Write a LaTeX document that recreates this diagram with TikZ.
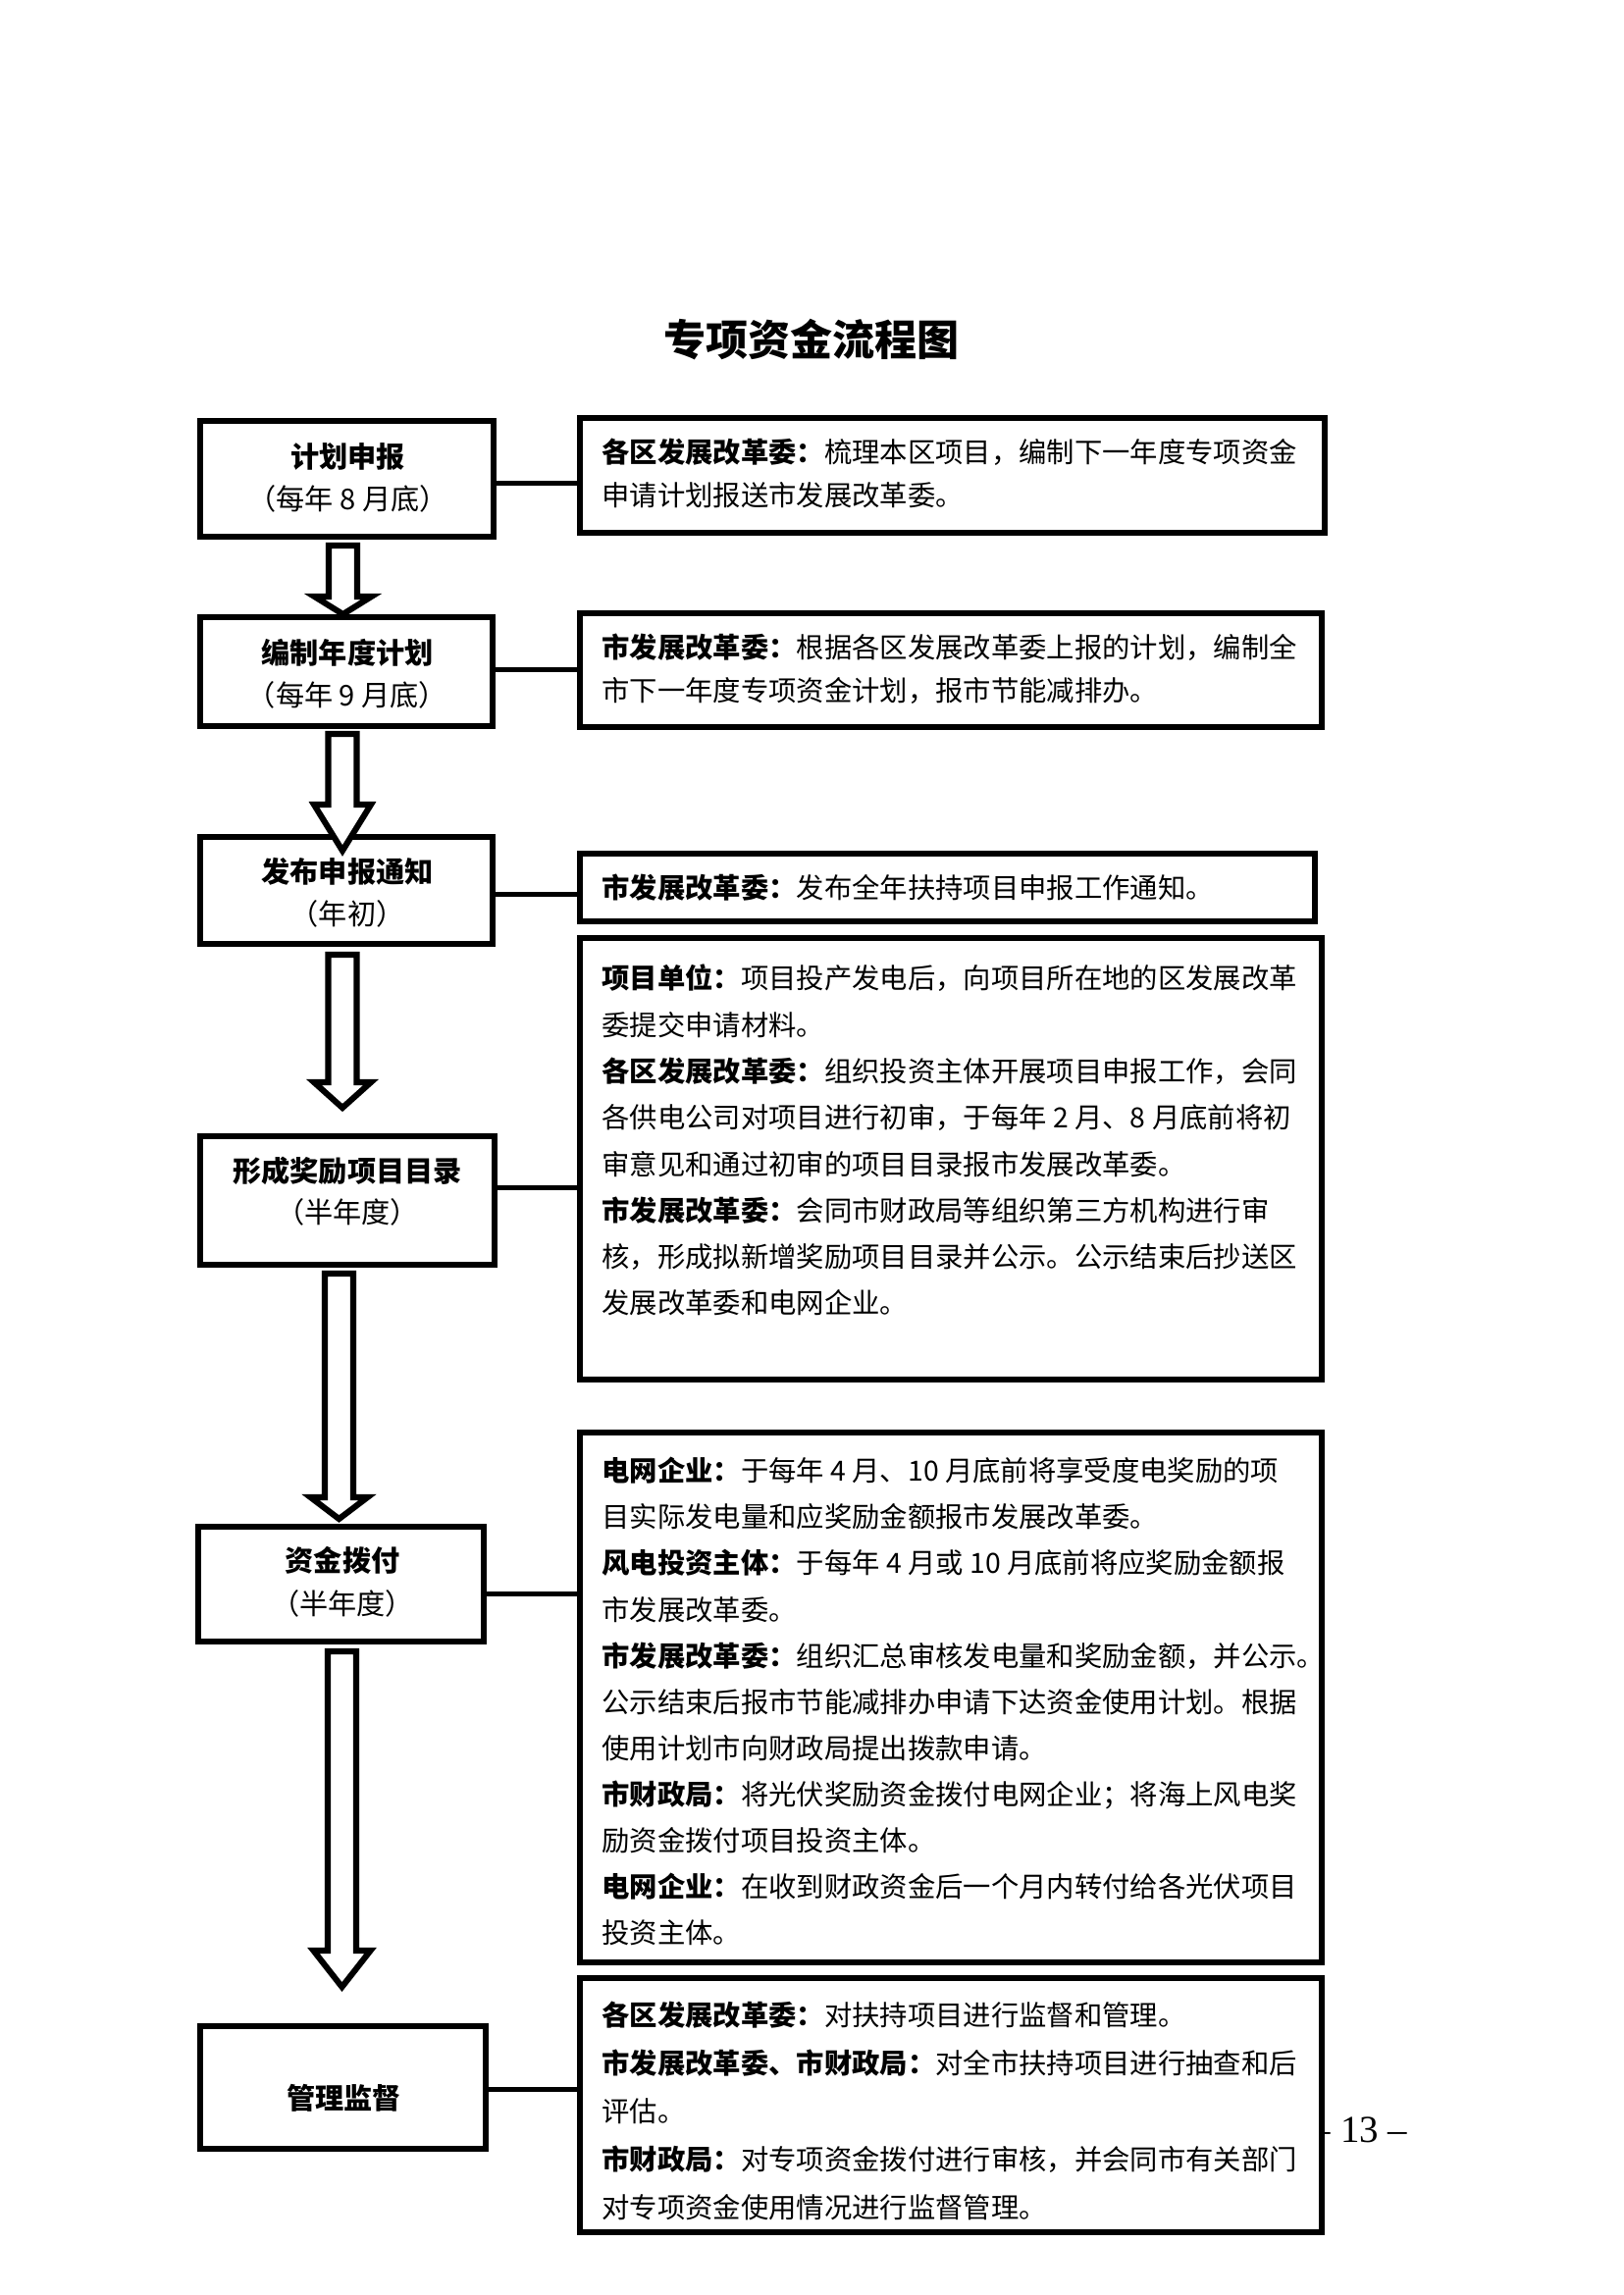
\documentclass[tikz,border=0pt]{standalone}
\usepackage{fontspec}
\setmainfont{Noto Sans CJK SC}
\newfontfamily\numfont{Liberation Serif}
\usetikzlibrary{fit,calc}
\tikzset{
  box/.style={draw, fill=white, line width=2.2pt, inner sep=0pt},
  conn/.style={draw, line width=1.8pt},
  barrow/.style={draw, fill=white, line width=2.2pt, line join=miter},
  ltext/.style={align=center, inner sep=0pt, font=\fontsize{10.5pt}{#1}\selectfont},
  rtext/.style={anchor=base west, align=left, inner sep=0pt, font=\fontsize{10.2pt}{#1}\selectfont},
}
\newcommand\blockarr[3]{%
  \draw[barrow] ($(#1)+(-14.5,0)$) -- ($(#1)+(14.5,0)$) -- ($(#2)+(14.5,-#3)$) -- ($(#2)+(29,-#3)$) -- (#2) -- ($(#2)+(-29,-#3)$) -- ($(#2)+(-14.5,-#3)$) -- cycle;}
\begin{document}
\begin{tikzpicture}[x=0.36pt, y=-0.36pt]
\useasboundingbox (0,0) rectangle (1654,2339);
\fill[white] (0,0) rectangle (1654,2339);

% page number (partly covered by the last box)
\node[anchor=base, inner sep=0pt, font=\numfont\fontsize{14pt}{16pt}\selectfont] (pg) at (1385.5,2183) {– 13 –};

% title
\node[inner sep=0pt, font=\bfseries\fontsize{15.5pt}{18pt}\selectfont] (title) at (827,346) {专项资金流程图};

% left boxes
\node[box, fit={(204,429) (503,547)}] (l1) {};
\node[box, fit={(204,629) (502,740)}] (l2) {};
\node[box, fit={(204,853) (502,962)}] (l3) {};
\node[box, fit={(204,1158) (504,1289)}] (l4) {};
\node[box, fit={(202,1556) (493,1673)}] (l5) {};
\node[box, fit={(204,2065) (495,2190)}] (l6) {};

% right boxes
\node[box, fit={(591,426) (1350,543)}] (r1) {};
\node[box, fit={(591,625) (1347,741)}] (r2) {};
\node[box, fit={(591,870) (1340,939)}] (r3) {};
\node[box, fit={(591,956) (1347,1406)}] (r4) {};
\node[box, fit={(591,1460) (1347,2000)}] (r5) {};
\node[box, fit={(591,2016) (1347,2275)}] (r6) {};

% connectors
\coordinate (c1) at (l1.east |- 0,492.5);
\coordinate (c2) at (l2.east |- 0,682.5);
\coordinate (c3) at (l3.east |- 0,911);
\coordinate (c4) at (l4.east |- 0,1210);
\coordinate (c5) at (l5.east |- 0,1624.5);
\coordinate (c6) at (l6.east |- 0,2129.5);
\draw[conn] (c1) -- (c1 -| r1.west);
\draw[conn] (c2) -- (c2 -| r2.west);
\draw[conn] (c3) -- (c3 -| r3.west);
\draw[conn] (c4) -- (c4 -| r4.west);
\draw[conn] (c5) -- (c5 -| r5.west);
\draw[conn] (c6) -- (c6 -| r6.west);

% block arrows
\coordinate (a1s) at (349.5,556);  \coordinate (a1e) at (349.5,626);
\coordinate (a2s) at (349,748);    \coordinate (a2e) at (349,867);
\coordinate (a3s) at (349,973);    \coordinate (a3e) at (349,1129);
\coordinate (a4s) at (345.5,1298); \coordinate (a4e) at (345.5,1548);
\coordinate (a5s) at (348.5,1683); \coordinate (a5e) at (348.5,2025);
\blockarr{a1s}{a1e}{18}
\blockarr{a2s}{a2e}{47}
\blockarr{a3s}{a3e}{26}
\blockarr{a4s}{a4e}{22}
\blockarr{a5s}{a5e}{37}

% left texts
\node[ltext=15.5pt] (t1) at (354.5,486.5) {{\bfseries 计划申报}\\（每年 8 月底）};
\node[ltext=15.3pt] (t2) at (354,687) {{\bfseries 编制年度计划}\\（每年 9 月底）};
\node[ltext=15.5pt] (t3) at (354,909.5) {{\bfseries 发布申报通知}\\（年初）};
\node[ltext=15.1pt] (t4) at (354,1214) {{\bfseries 形成奖励项目目录}\\（半年度）};
\node[ltext=15.8pt] (t5) at (349,1612) {{\bfseries 资金拨付}\\（半年度）};
\node[ltext=15pt] (t6) at (350.5,2138) {{\bfseries 管理监督}};

% right texts (anchored at the baseline of their last line)
\node[rtext=15.66pt] (s1) at (613,515.3) {{\bfseries 各区发展改革委：}梳理本区项目，编制下一年度专项资金\\申请计划报送市发展改革委。};
\node[rtext=15.84pt] (s2) at (613,714.8) {{\bfseries 市发展改革委：}根据各区发展改革委上报的计划，编制全\\市下一年度专项资金计划，报市节能减排办。};
\node[rtext=15.8pt] (s3) at (613,915.8) {{\bfseries 市发展改革委：}发布全年扶持项目申报工作通知。};
\node[rtext=17.03pt] (s4) at (613,1338.9) {{\bfseries 项目单位：}项目投产发电后，向项目所在地的区发展改革\\委提交申请材料。\\{\bfseries 各区发展改革委：}组织投资主体开展项目申报工作，会同\\各供电公司对项目进行初审，于每年 2 月、8 月底前将初\\审意见和通过初审的项目目录报市发展改革委。\\{\bfseries 市发展改革委：}会同市财政局等组织第三方机构进行审\\核，形成拟新增奖励项目目录并公示。公示结束后抄送区\\发展改革委和电网企业。};
\node[rtext=16.96pt] (s5) at (613,1980.8) {{\bfseries 电网企业：}于每年 4 月、10 月底前将享受度电奖励的项\\目实际发电量和应奖励金额报市发展改革委。\\{\bfseries 风电投资主体：}于每年 4 月或 10 月底前将应奖励金额报\\市发展改革委。\\{\bfseries 市发展改革委：}组织汇总审核发电量和奖励金额，并公示。\\公示结束后报市节能减排办申请下达资金使用计划。根据\\使用计划市向财政局提出拨款申请。\\{\bfseries 市财政局：}将光伏奖励资金拨付电网企业；将海上风电奖\\励资金拨付项目投资主体。\\{\bfseries 电网企业：}在收到财政资金后一个月内转付给各光伏项目\\投资主体。};
\node[rtext=17.64pt] (s6) at (613,2260.8) {{\bfseries 各区发展改革委：}对扶持项目进行监督和管理。\\{\bfseries 市发展改革委、市财政局：}对全市扶持项目进行抽查和后\\评估。\\{\bfseries 市财政局：}对专项资金拨付进行审核，并会同市有关部门\\对专项资金使用情况进行监督管理。};
\end{tikzpicture}
\end{document}
